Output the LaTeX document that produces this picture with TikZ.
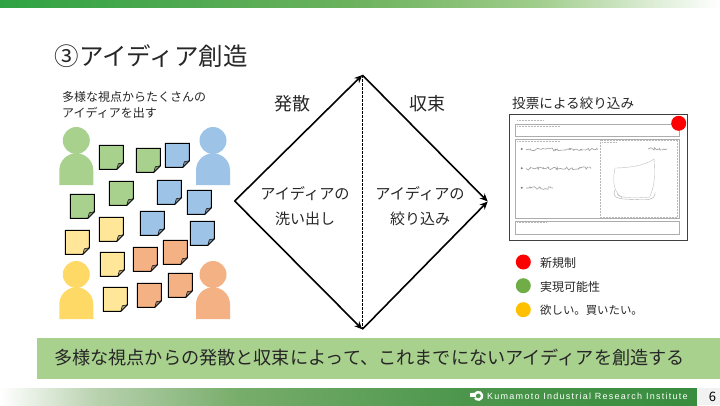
\documentclass[tikz,border=0pt]{standalone}
\usepackage{fontspec}
\setmainfont{Noto Sans CJK JP}
\newfontfamily\footfont[LetterSpace=14]{Liberation Sans}
\usetikzlibrary{arrows.meta,decorations.pathmorphing}
\definecolor{txt}{HTML}{262626}
\definecolor{cgreen}{HTML}{A9D18E}
\definecolor{cblue}{HTML}{9DC3E6}
\definecolor{cyellow}{HTML}{FFD966}
\definecolor{cpaley}{HTML}{FFE699}
\definecolor{corange}{HTML}{F4B183}
\definecolor{mred}{HTML}{FF0000}
\definecolor{mgreen}{HTML}{70AD47}
\definecolor{myel}{HTML}{FFC000}
\pgfdeclarehorizontalshading{topbarshade}{100bp}{
 rgb(0bp)=(0.184,0.639,0.263);
 rgb(25bp)=(0.184,0.639,0.263);
 rgb(37bp)=(0.30,0.66,0.31);
 rgb(50bp)=(0.43,0.70,0.37);
 rgb(62bp)=(0.62,0.80,0.54);
 rgb(75bp)=(1,1,1);
 rgb(100bp)=(1,1,1)}
\pgfdeclarehorizontalshading{footbarshade}{100bp}{
 rgb(0bp)=(1,1,1);
 rgb(25bp)=(1,1,1);
 rgb(32bp)=(0.72,0.82,0.68);
 rgb(42bp)=(0.47,0.68,0.42);
 rgb(58bp)=(0.30,0.59,0.30);
 rgb(75bp)=(0.22,0.55,0.24);
 rgb(100bp)=(0.22,0.55,0.24)}
\newcommand{\fs}[1]{\fontsize{#1}{#1}\selectfont}
\tikzset{
 x=1pt,y=-1pt,
 lab/.style={text=txt,inner sep=0pt,align=left},
 flow/.style={draw=black,line width=1.6pt,-{Stealth[length=8pt,width=7pt]},shorten >=0pt},
 formline/.style={draw=black!32,line width=0.7pt},
 scribble/.style={draw=black!38,line width=0.6pt,decorate,decoration={random steps,segment length=1.6pt,amplitude=1.6pt}},
 dotline/.style={draw=black!28,line width=0.5pt,densely dotted},
 pics/stickynote/.style={code={
   \path[fill=#1,draw=black,line width=1pt] (0,0) -- (24,0) -- (24,17.5) -- (17.5,24) -- (0,24) -- cycle;
   \path[fill=black!55,draw=black,line width=0.5pt] (17.5,24) -- (19,18.5) -- (24,17.5) -- cycle;
   \path[fill=#1!70!black] (18.3,22) -- (19.5,19) -- (22.2,18.4) -- cycle;
 }},
 pics/person/.style={code={
   \fill[#1] (0,-44.5) circle[radius=13.5];
   \fill[#1] (-17,0) -- (-17,-14.7) arc[start angle=180,end angle=360,radius=17] -- (17,0) -- cycle;
 }}
}
\begin{document}
\begin{tikzpicture}
\useasboundingbox (0,0) rectangle (720,405);
% bars
\shade[shading=topbarshade] (0,0) rectangle (720,7.2);
\shade[shading=footbarshade] (0,388) rectangle (697,405);
\fill[black!5] (697,388) rectangle (720,405);
\fill[cgreen] (37,338) rectangle (720,379);
% footer logo
\draw[white,line width=2.4pt] (472,394) -- (475,394) arc[start angle=-150,end angle=150,radius=3.8];
\fill[white] (469.5,392.5) -- (475.5,392.5) -- (475.5,396.5) -- (469.5,396.5) -- cycle;
\node[inner sep=0pt,anchor=west,text=white] (footer) at (487,396.5) {\footfont\fontsize{9}{10}\selectfont Kumamoto Industrial Research Institute};
\node[lab,anchor=center,text=black] (pageno) at (712.5,396.5) {\fs{13}6};
% title & headings
\node[lab,anchor=west] (title) at (54.5,56) {\fs{24.5}③アイディア創造};
\node[lab,anchor=west] (intro1) at (62,97) {\fs{12}多様な視点からたくさんの};
\node[lab,anchor=west] (intro2) at (62,112.5) {\fs{12}アイディアを出す};
\node[lab,anchor=center] (hassan) at (292.5,103.5) {\fs{18}発散};
\node[lab,anchor=center] (shusoku) at (427,103.5) {\fs{18}収束};
\node[lab,anchor=center] (d1) at (305,193.5) {\fs{15.2}アイディアの};
\node[lab,anchor=center] (d2) at (305,218.5) {\fs{15}洗い出し};
\node[lab,anchor=center] (c1) at (420,193.5) {\fs{15.2}アイディアの};
\node[lab,anchor=center] (c2) at (420,218.5) {\fs{15}絞り込み};
\node[lab,anchor=west] (vote) at (512,103.5) {\fs{13.6}投票による絞り込み};
\node[lab,anchor=center] (msg) at (369.5,357.5) {\fs{18.15}多様な視点からの発散と収束によって、これまでにないアイディアを創造する};
% persons
\path (76.3,185) pic {person=cgreen};
\path (213,185) pic {person=cblue};
\path (76.3,319) pic {person=cyellow};
\path (213,319) pic {person=corange};
% sticky notes
\path (99.3,145.3) pic {stickynote=cgreen};
\path (136.3,148.3) pic {stickynote=cgreen};
\path (109.3,181.3) pic {stickynote=cgreen};
\path (70.3,194.3) pic {stickynote=cgreen};
\path (165.3,143.3) pic {stickynote=cblue};
\path (157.3,180.3) pic {stickynote=cblue};
\path (187.3,190.3) pic {stickynote=cblue};
\path (140.3,211.3) pic {stickynote=cblue};
\path (190.3,221.3) pic {stickynote=cblue};
\path (99.3,217.3) pic {stickynote=cpaley};
\path (65.3,230.3) pic {stickynote=cpaley};
\path (100.3,252.3) pic {stickynote=cpaley};
\path (103.3,287.3) pic {stickynote=cpaley};
\path (133.3,247.3) pic {stickynote=corange};
\path (163.3,240.3) pic {stickynote=corange};
\path (137.3,283.3) pic {stickynote=corange};
\path (168.3,273.3) pic {stickynote=corange};
% diamond
\coordinate (L) at (234.7,201);
\coordinate (T) at (362.3,75);
\coordinate (B) at (362.3,329.3);
\coordinate (R) at (487.7,201.5);
\draw[flow] (L) -- (T);
\draw[flow] (T) -- (R);
\draw[flow] (L) -- (B);
\draw[flow] (B) -- (R);
\draw[black,line width=0.6pt,dash pattern=on 2.5pt off 1.5pt] (T) -- (B);
% form sheet
\draw[draw=black!75,line width=1pt,fill=white] (509.3,114.3) rectangle (687.7,240.3);
\draw[formline] (515.7,124.3) rectangle (679,136.7);
\draw[formline] (515.7,139.3) rectangle (679,218.3);
\draw[formline] (515.7,221) rectangle (679,234);
\draw[dotline] (600,140.3) rectangle (677.7,217);
\draw[dotline] (517,120.5) -- (543,120.5);
\draw[dotline] (517,126.3) -- (560,126.3);
\draw[dotline] (517,141) -- (560,141);
\draw[dotline] (602,142.5) -- (616,142.5);
\draw[dotline] (517,222.5) -- (547,222.5);
\fill[black!50] (521.7,149) circle[radius=1.1];
\fill[black!50] (521.7,168.3) circle[radius=1.1];
\fill[black!50] (521.7,187.7) circle[radius=1.1];
\draw[scribble] (526,149.5) -- (598,149.5);
\draw[scribble] (526,168.5) -- (591,168.5);
\draw[scribble] (526,188) -- (553,188);
\draw[scribble] (648,149) -- (667,149);
\draw[draw=black!25,line width=0.4pt] (615,168) .. controls (626,168) and (645,166) .. (654,159);
\draw[draw=black!25,line width=0.4pt] (615,168) .. controls (612,182) and (614,192) .. (622,198);
\draw[draw=black!25,line width=0.4pt] (654,159) .. controls (655,175) and (655,185) .. (650,196);
\draw[draw=black!32,line width=0.4pt] (615,190) .. controls (610,200) and (625,199) .. (635,199.5) .. controls (645,200) and (656,201) .. (655,192);
\draw[draw=black!25,line width=0.4pt] (617,194) .. controls (620,199) and (640,198) .. (650,197);
\fill[mred] (678.7,123.3) circle[radius=7.5];
% legend
\fill[mred] (523.3,262) circle[radius=7.5];
\fill[mgreen] (523.3,285.7) circle[radius=7.5];
\fill[myel] (523.3,309.7) circle[radius=7.5];
\node[lab,anchor=west] (leg1) at (540,262.5) {\fs{12}新規制};
\node[lab,anchor=west] (leg2) at (540,286.5) {\fs{12}実現可能性};
\node[lab,anchor=west] (leg3) at (540,310.5) {\fs{11.4}欲しい。買いたい。};
\end{tikzpicture}
\end{document}
